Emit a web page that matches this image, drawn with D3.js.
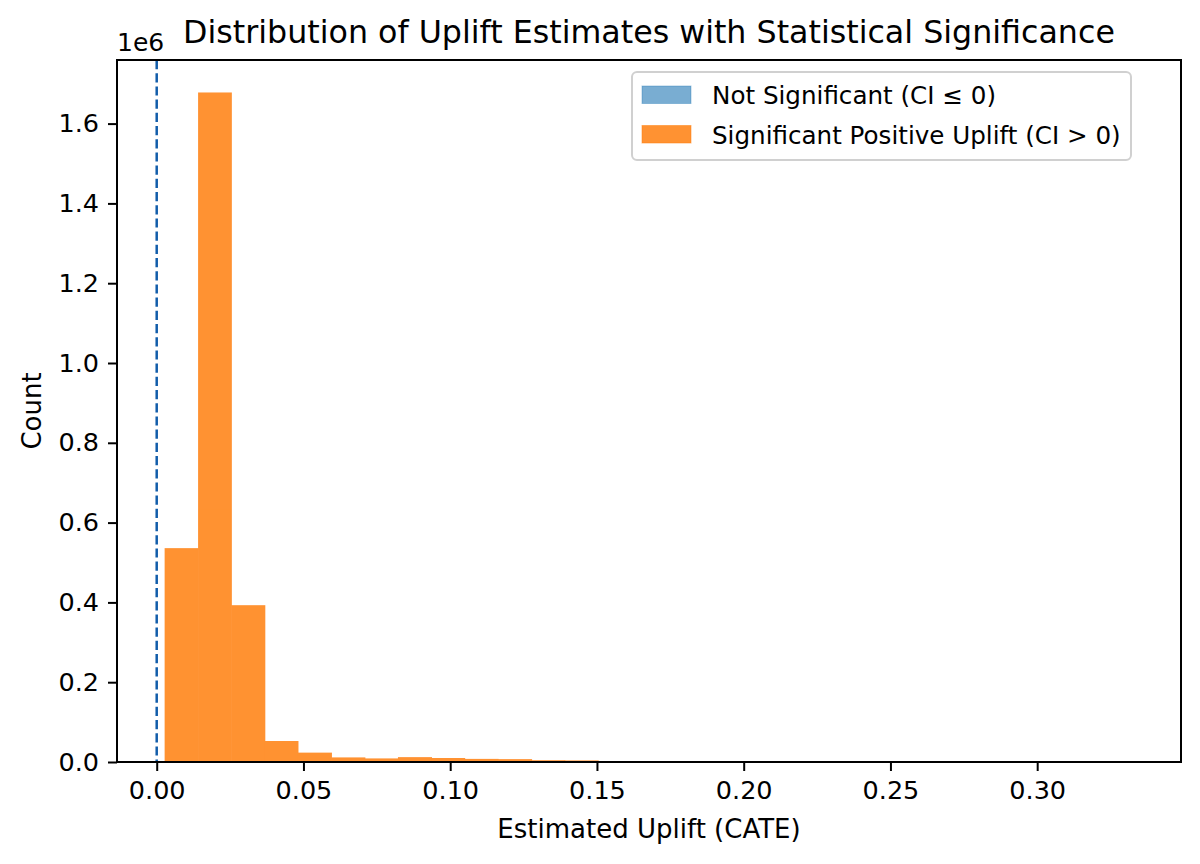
<!DOCTYPE html>
<html>
<head>
<meta charset="utf-8">
<script src="https://cdn.jsdelivr.net/npm/d3@7"></script>
<style>
	body { margin: 0; background: #fff; }
	svg { font-family: "DejaVu Sans", sans-serif; }
</style>
</head>
<body>
<svg id="svg" width="1200" height="864"></svg>
<script>
"use strict";

// histogram bin edges (estimated uplift)
const binEdges = [
	0.0028, 0.0142, 0.0255, 0.0369, 0.0482, 0.0596, 0.071, 0.0823, 0.0937,
	0.105, 0.1164, 0.1278, 0.1391, 0.1505, 0.1618, 0.1732, 0.1846, 0.1959,
	0.2073, 0.2186, 0.23, 0.2413, 0.2527,
];

// counts per bin, significant positive uplift (CI > 0)
const sigCounts = [
	536000, 1678000, 393000, 52600, 23500, 11500, 9000, 12200, 10000, 7800,
	7200, 4500, 4000, 1200, 1000, 0, 0, 0, 0, 0, 0, 1500,
];

// counts per bin, not significant (CI <= 0)
const notSigCounts = [
	0, 2000, 0, 0, 0, 0, 0, 0, 0, 0, 0, 0, 0, 1000, 1000, 0, 0, 0, 0, 0, 0, 1500,
];

const xTicks = [0, 0.05, 0.1, 0.15, 0.2, 0.25, 0.3];
const yTicks = [0, 200000, 400000, 600000, 800000, 1000000, 1200000, 1400000, 1600000];

const seriesNames = ["Not Significant (CI \u2264 0)", "Significant Positive Uplift (CI > 0)"];
const seriesColors = ["#1f77b4", "#ff7f0e"];
const seriesOpacity = [0.6, 0.85];

const margin = { left: 117, right: 1181, top: 60, bottom: 762 };

const svg = d3.select("#svg");

const x = d3.scaleLinear().domain([-0.01353, 0.349]).range([margin.left, margin.right]);
const y = d3.scaleLinear().domain([0, 1600000]).range([margin.bottom, 123.6]);

const g = svg.append("g").attr("id", "hist");

// build bins from edges + counts
function makeBins(counts) {
	return counts.map((c, i) => ({ x0: binEdges[i], x1: binEdges[i + 1], count: c }));
}

const seriesData = [makeBins(notSigCounts), makeBins(sigCounts)];

// each series drawn as one step outline so bars don't show seams
seriesData.forEach((bins, s) => {
	const sg = g.append("g").style("opacity", seriesOpacity[s]);
	sg.selectAll("rect")
		.data(bins.filter((d) => d.count > 0))
		.enter()
		.append("rect")
		.attr("x", (d) => x(d.x0) - 0.3)
		.attr("width", (d) => x(d.x1) - x(d.x0) + 0.6)
		.attr("y", (d) => y(d.count))
		.attr("height", (d) => y(0) - y(d.count))
		.style("fill", seriesColors[s]);
});

// zero line
g.append("line")
	.attr("x1", x(0))
	.attr("x2", x(0))
	.attr("y1", margin.top)
	.attr("y2", margin.bottom)
	.style("stroke", "#125daa")
	.style("stroke-width", "2.5px")
	.style("stroke-dasharray", "9.2,4");

// axes
const xAxis = d3
	.axisBottom(x)
	.tickValues(xTicks)
	.tickFormat(d3.format(".2f"))
	.tickSize(9)
	.tickPadding(9);

const yAxis = d3
	.axisLeft(y)
	.tickValues(yTicks)
	.tickFormat((d) => (d / 1e6).toFixed(1))
	.tickSize(9)
	.tickPadding(9);

const gx = svg
	.append("g")
	.attr("transform", `translate(0,${margin.bottom})`)
	.call(xAxis);
const gy = svg
	.append("g")
	.attr("transform", `translate(${margin.left},0)`)
	.call(yAxis);

[gx, gy].forEach((a) => {
	a.select(".domain").remove();
	a.selectAll(".tick line").style("stroke", "#000").style("stroke-width", "2px");
	a.selectAll(".tick text")
		.style("font-size", "25.5px")
		.style("fill", "#000")
		.style("font-family", "DejaVu Sans");
});
gx.selectAll(".tick text").attr("dy", "0.75em");

// frame
svg.append("rect")
	.attr("x", margin.left)
	.attr("y", margin.top)
	.attr("width", margin.right - margin.left)
	.attr("height", margin.bottom - margin.top)
	.style("fill", "none")
	.style("stroke", "#000")
	.style("stroke-width", "2px");

// texts
svg.append("text")
	.text("Distribution of Uplift Estimates with Statistical Significance")
	.attr("x", (margin.left + margin.right) / 2)
	.attr("y", 43)
	.attr("text-anchor", "middle")
	.attr("font-size", "31.7px");

svg.append("text")
	.text("1e6")
	.attr("x", margin.left)
	.attr("y", 51)
	.attr("font-size", "25px");

svg.append("text")
	.text("Estimated Uplift (CATE)")
	.attr("x", (margin.left + margin.right) / 2)
	.attr("y", 838)
	.attr("text-anchor", "middle")
	.attr("font-size", "26px");

svg.append("text")
	.text("Count")
	.attr("transform", `translate(41,${(margin.top + margin.bottom) / 2}) rotate(-90)`)
	.attr("text-anchor", "middle")
	.attr("font-size", "26px");

// legend
const legend = svg.append("g").attr("id", "legend").attr("transform", "translate(632,72)");
legend
	.append("rect")
	.attr("width", 499)
	.attr("height", 88)
	.attr("rx", 5)
	.style("fill", "#fff")
	.style("fill-opacity", 0.8)
	.style("stroke", "#d0d0d0")
	.style("stroke-width", "2px");

seriesNames.forEach((name, i) => {
	const row = legend.append("g").attr("transform", `translate(0,${14 + i * 39.5})`);
	row.append("rect")
		.attr("x", 10)
		.attr("width", 49)
		.attr("height", 17.5)
		.style("fill", seriesColors[i])
		.style("fill-opacity", seriesOpacity[i])
		.style("stroke", seriesColors[i])
		.style("stroke-opacity", seriesOpacity[i] * 0.6);
	row.append("text")
		.text(name)
		.attr("x", 80)
		.attr("y", 18)
		.attr("font-size", "24.6px");
});
</script>
</body>
</html>
